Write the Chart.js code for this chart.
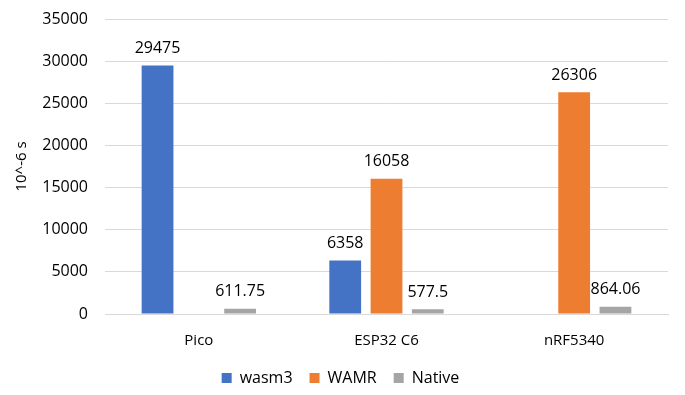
<!DOCTYPE html>
<html>
<head>
<meta charset="utf-8">
<script src="https://cdn.jsdelivr.net/npm/chart.js@4"></script>
<style>
  body { margin: 0; background: #fff; }
  #wrap { width: 685px; height: 395px; }
</style>
</head>
<body>
<div id="wrap"><canvas id="chart" width="685" height="395"></canvas></div>
<script>
// data
const boards = ['Pico', 'ESP32 C6', 'nRF5340'];
const wasm3 = [29475, 6358, null];
const wamr = [null, 16058, 26306];
const native = [611.75, 577.5, 864.06];
const yTicks = [0, 5000, 10000, 15000, 20000, 25000, 30000, 35000];

const fontFam = '"Open Sans", "Noto Sans", sans-serif';

// draws the value above each bar
const barLabels = {
    id: 'barLabels',
    afterDatasetsDraw(chart) {
        let ctx = chart.ctx;
        ctx.save();
        ctx.font = '16px ' + fontFam;
        ctx.fillStyle = '#000';
        ctx.textAlign = 'center';
        ctx.textBaseline = 'middle';
        chart.data.datasets.forEach(function (ds, i) {
            chart.getDatasetMeta(i).data.forEach(function (bar, j) {
                let v = ds.data[j];
                if (v === null) return;
                ctx.fillText(String(v), bar.x, bar.y - 17);
            });
        });
        ctx.restore();
    }
};

new Chart(document.getElementById('chart').getContext('2d'), {
    type: 'bar',
    data: {
        labels: boards,
        datasets: [
            {label: 'wasm3', data: wasm3, backgroundColor: '#4472C4'},
            {label: 'WAMR', data: wamr, backgroundColor: '#ED7D31'},
            {label: 'Native', data: native, backgroundColor: '#A5A5A5'}
        ]
    },
    options: {
        responsive: false,
        animation: false,
        categoryPercentage: 0.66,
        barPercentage: 0.77,
        layout: {padding: {left: 13, right: 17, top: 19, bottom: -1}},
        plugins: {
            legend: {
                position: 'bottom',
                labels: {
                    boxWidth: 10,
                    boxHeight: 10,
                    padding: 17,
                    color: '#000',
                    font: {family: fontFam, size: 16}
                }
            },
            tooltip: {enabled: false}
        },
        scales: {
            x: {
                grid: {display: false},
                border: {color: '#d9d9d9'},
                ticks: {color: '#000', font: {family: fontFam, size: 15}, padding: 10},
                afterFit: function (axis) { axis.height = 39; }
            },
            y: {
                min: 0,
                max: 35000,
                afterBuildTicks: function (axis) {
                    axis.ticks = yTicks.map(function (v) { return {value: v}; });
                },
                afterFit: function (axis) {
                    axis.width = 92;
                    axis.paddingTop = 0;
                    axis.paddingBottom = 0;
                },
                grid: {color: '#d9d9d9', drawTicks: false},
                border: {display: false},
                ticks: {
                    color: '#000',
                    font: {family: fontFam, size: 16},
                    padding: 17,
                    callback: function (v) { return String(v); }
                },
                title: {
                    display: true,
                    text: '10^-6 s',
                    color: '#000',
                    font: {family: fontFam, size: 15},
                    padding: 0
                }
            }
        }
    },
    plugins: [barLabels]
});
</script>
</body>
</html>
